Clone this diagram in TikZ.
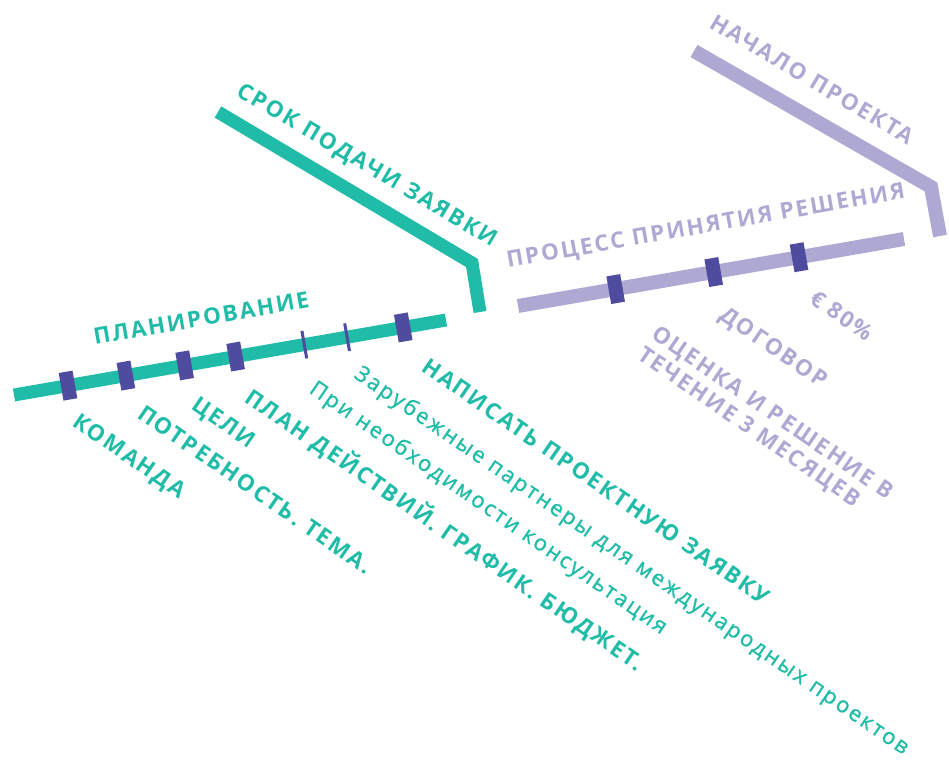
\documentclass[tikz,border=0pt]{standalone}
\usepackage{fontspec}
\setmainfont{Open Sans}
\newfontfamily\headfont[LetterSpace=9]{Open Sans}
\newfontfamily\notefont[LetterSpace=10,FakeBold=1]{Open Sans}
\definecolor{mint}{HTML}{21BCA8}
\definecolor{lilac}{HTML}{AEA9D3}
\definecolor{plum}{HTML}{4F4C9F}

\begin{document}
\begin{tikzpicture}[x = 1pt, y = -1pt,
    mintline/.style = {draw = mint, line width = 13pt},
    lilacline/.style = {draw = lilac, line width = 14pt},
    tickbox/.style = {fill = plum, sloped, inner sep = 0pt,
    minimum width = 14pt, minimum height = 28pt},
    thinbox/.style = {tickbox, minimum width = 3pt},
    heading/.style = {inner sep = 0pt, anchor = base west,
    font = \headfont\bfseries\fontsize{22.5}{25}\selectfont},
    stoplabel/.style = {heading, rotate = -34.5, text = #1, align = left},
    notelabel/.style = {stoplabel = #1,
    font = \notefont\fontsize{22}{25}\selectfont}
    ]
    \useasboundingbox (0,0) rectangle (949,763);

    \coordinate (due0) at (218,112);
    \coordinate (due1) at (472,263);
    \coordinate (due2) at (480,312);
    \coordinate (plan0) at (14,395);
    \coordinate (plan1) at (446,320);
    \coordinate (start0) at (694,51);
    \coordinate (start1) at (931,187);
    \coordinate (start2) at (940,236);
    \coordinate (dec0) at (518,306);
    \coordinate (dec1) at (904,239);

    \draw[mintline] (due0) -- (due1) -- (due2);
    \draw[lilacline] (start0) -- (start1) -- (start2);
    \draw[mintline] (plan0) -- (plan1)
    node[tickbox, pos = .125] (tk1) {}
    node[tickbox, pos = .259] (tk2) {}
    node[tickbox, pos = .395] (tk3) {}
    node[tickbox, pos = .513] (tk4) {}
    node[thinbox, pos = .672] (tk5) {}
    node[thinbox, pos = .771] (tk6) {}
    node[tickbox, pos = .901] (tk7) {};
    \draw[lilacline] (dec0) -- (dec1)
    node[tickbox, pos = .253] (tk8) {}
    node[tickbox, pos = .507] (tk9) {}
    node[tickbox, pos = .728] (tk10) {};

    \node[heading, rotate = 10, text = mint] (planning) at (95,345) {ПЛАНИРОВАНИЕ};
    \node[heading, rotate = -30.7, text = mint] (deadline) at (235,95) {СРОК ПОДАЧИ ЗАЯВКИ};
    \node[heading, rotate = -30.7, text = lilac] (kickoff) at (708,27) {НАЧАЛО ПРОЕКТА};
    \node[heading, rotate = 10, text = lilac] (process) at (508,268) {ПРОЦЕСС ПРИНЯТИЯ РЕШЕНИЯ};

    \node[stoplabel = mint] (team) at (71,425) {КОМАНДА};
    \node[stoplabel = mint] (need) at (136,417) {ПОТРЕБНОСТЬ. ТЕМА.};
    \node[stoplabel = mint] (goals) at (190,408) {ЦЕЛИ};
    \node[stoplabel = mint] (actions) at (243,401) {ПЛАН ДЕЙСТВИЙ. ГРАФИК. БЮДЖЕТ.};
    \node[notelabel = mint] (advice) at (308,392) {При необходимости консультация};
    \node[notelabel = mint] (partners) at (353,377) {Зарубежные партнеры для международных проектов};
    \node[stoplabel = mint] (write) at (420,370) {НАПИСАТЬ ПРОЕКТНУЮ ЗАЯВКУ};

    \node[stoplabel = lilac] (review) at (636,358) {ОЦЕНКА И РЕШЕНИЕ В\\ТЕЧЕНИЕ 3 МЕСЯЦЕВ};
    \node[stoplabel = lilac] (contract) at (718,318) {ДОГОВОР};
    \node[stoplabel = lilac] (grant) at (808,302) {€ 80\%};
\end{tikzpicture}
\end{document}
